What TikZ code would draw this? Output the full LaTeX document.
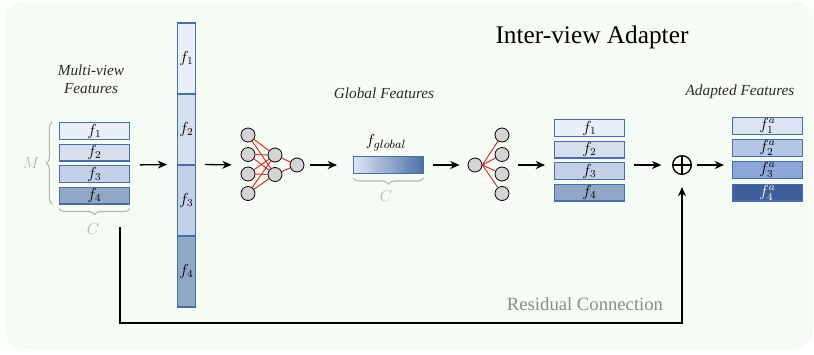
\documentclass[tikz,border=0pt]{standalone}
\usepackage{fontspec}
\setmainfont{Liberation Serif}
\usetikzlibrary{arrows.meta,decorations.pathreplacing}
\definecolor{bgmint}{HTML}{F5FCF3}
\definecolor{featline}{HTML}{4A6DA8}
\definecolor{fa}{HTML}{E9EFF6}
\definecolor{fb}{HTML}{D5DFEE}
\definecolor{fc}{HTML}{C2D1E8}
\definecolor{fd}{HTML}{90A7C6}
\definecolor{aa}{HTML}{DCE4F4}
\definecolor{ab}{HTML}{B4C6E6}
\definecolor{ac}{HTML}{8CA6DA}
\definecolor{ad}{HTML}{3E5F9C}
\definecolor{glight}{HTML}{DDE5F4}
\definecolor{gmid}{HTML}{A9BCDC}
\definecolor{gdark}{HTML}{4F70A7}
\definecolor{neuron}{HTML}{D4D4D4}
\definecolor{synapse}{HTML}{D42A2A}
\definecolor{bracegray}{HTML}{B5B5B5}
\definecolor{notegray}{HTML}{8C8C8C}
\definecolor{inkgray}{HTML}{2B2B2B}
\begin{document}
\begin{tikzpicture}[
x=0.75pt, y=-0.75pt,
every edge/.style = {draw=black, line width=1pt},
 flow/.style = {-{Stealth[length=7pt,width=6pt]}},
 resid/.style = {draw=black, line width=0.8pt,
      -{Stealth[length=7pt,width=6pt]}, shorten >=9pt},
 feat/.style args = {#1/#2}{%
      rectangle, draw=featline, line width=0.9pt, fill=#1, text=#2,
      minimum width=52.3pt, minimum height=12.6pt, inner sep=0pt,
      font=\fontsize{11.5}{13}\selectfont},
 seg/.style = {rectangle, draw=featline, line width=0.9pt, fill=#1,
      minimum width=13.3pt, minimum height=53.25pt, inner sep=0pt,
      font=\fontsize{11.5}{13}\selectfont},
 nrn/.style = {circle, draw=black, line width=0.6pt, fill=neuron,
      minimum size=10.5pt, inner sep=0pt},
 syn/.style = {draw=synapse, line width=0.7pt},
 brc/.style = {draw=bracegray, line width=0.8pt, decorate,
      decoration={brace, amplitude=4.5pt}},
 dimlbl/.style = {text=bracegray, font=\fontsize{13}{15}\selectfont},
 sublbl/.style = {text=inkgray, align=center,
      font=\fontsize{11.5}{13.5}\selectfont\itshape},
 heading/.style = {font=\fontsize{19}{22}\selectfont},
 note/.style = {text=notegray, font=\fontsize{14}{16}\selectfont}
                    ]
\useasboundingbox (0,0) rectangle (814,354);
\fill[bgmint, rounded corners=14pt] (5,1) rectangle (813,349);
%
\node(title) [heading] at (592,37) {Inter-view Adapter};
\node(mvlbl) [sublbl] at (91,79) {Multi-view\\Features};
\node(gflbl) [sublbl] at (384,93) {Global Features};
\node(aflbl) [sublbl] at (740,92) {Adapted Features};
%
\node(l1) [feat=fa/black] at (94.5,131) {$f_1$};
\node(l2) [feat=fb/black] at (94.5,152.5) {$f_2$};
\node(l3) [feat=fc/black] at (94.5,174) {$f_3$};
\node(l4) [feat=fd/black] at (94.5,195.5) {$f_4$};
\draw[brc] ([xshift=-5pt]l4.south west) -- ([xshift=-5pt]l1.north west);
\draw[brc] ([yshift=-3pt]l4.south east) -- ([yshift=-3pt]l4.south west);
\node(dimM) [dimlbl] at (31,163) {$M$};
\node(dimC) [dimlbl] at (93,229) {$C$};
%
\node(col1) [seg=fa] at (186.5,58.5) {$f_1$};
\node(col2) [seg=fb] at (186.5,129.5) {$f_2$};
\node(col3) [seg=fc] at (186.5,200.5) {$f_3$};
\node(col4) [seg=fd] at (186.5,271.5) {$f_4$};
%
\node(i1) [nrn] at (248,135) {};
\node(i2) [nrn] at (248,154.5) {};
\node(i3) [nrn] at (248,174) {};
\node(i4) [nrn] at (248,193.5) {};
\node(h1) [nrn] at (275,155) {};
\node(h2) [nrn] at (275,174.5) {};
\node(o1) [nrn] at (297,165) {};
\path   (i1)  edge[syn] (h1);
\path   (i1)  edge[syn] (h2);
\path   (i2)  edge[syn] (h1);
\path   (i2)  edge[syn] (h2);
\path   (i3)  edge[syn] (h1);
\path   (i3)  edge[syn] (h2);
\path   (i4)  edge[syn] (h1);
\path   (i4)  edge[syn] (h2);
\path   (h1)  edge[syn] (o1);
\path   (h2)  edge[syn] (o1);
%
\node(gbar) [rectangle, draw=featline, line width=0.9pt,
      left color=glight, middle color=gmid, right color=gdark,
      minimum width=52.3pt, minimum height=12.6pt] at (388.5,165) {};
\node(fglb) [font=\fontsize{12.5}{14}\selectfont] at (386,143) {$f_{global}$};
\draw[brc] ([yshift=-3pt]gbar.south east) -- ([yshift=-3pt]gbar.south west);
\node(dimC2) [dimlbl] at (386,196) {$C$};
%
\node(p0) [nrn] at (475,165) {};
\node(q1) [nrn] at (502,135) {};
\node(q2) [nrn] at (502,154.5) {};
\node(q3) [nrn] at (502,174) {};
\node(q4) [nrn] at (502,193.5) {};
\path   (p0.east)  edge[syn] (q1);
\path   (p0.east)  edge[syn] (q2);
\path   (p0.east)  edge[syn] (q3);
\path   (p0.east)  edge[syn] (q4);
%
\node(m1) [feat=fa/black] at (589.5,128) {$f_1$};
\node(m2) [feat=fb/black] at (589.5,149.5) {$f_2$};
\node(m3) [feat=fc/black] at (589.5,171) {$f_3$};
\node(m4) [feat=fd/black] at (589.5,192.5) {$f_4$};
%
\node(plus) [circle, draw=black, line width=1pt, minimum size=14pt,
      inner sep=0pt, path picture={
      \draw[line width=1pt] (path picture bounding box.north)
            -- (path picture bounding box.south)
            (path picture bounding box.west)
            -- (path picture bounding box.east);}] at (682,165) {};
%
\node(r1) [feat=aa/black] at (767.5,126) {$f_1^a$};
\node(r2) [feat=ab/black] at (767.5,148) {$f_2^a$};
\node(r3) [feat=ac/black] at (767.5,170) {$f_3^a$};
\node(r4) [feat=ad/white] at (767.5,192.5) {$f_4^a$};
%
\path   (l1.east |- plus)  edge[flow, shorten <=7.5pt, shorten >=7.5pt] (col3.north west);
\path   (col3.north east)  edge[flow, shorten <=6.75pt, shorten >=6.75pt] (i1.west |- plus);
\path   (o1.east)  edge[flow, shorten <=4.5pt, shorten >=12pt] (gbar.west);
\path   (gbar.east)  edge[flow, shorten <=6.75pt, shorten >=6pt] (p0.west);
\path   (q1.east |- plus)  edge[flow, shorten <=6.75pt, shorten >=6.75pt] (m1.west |- plus);
\path   (m1.east |- plus)  edge[flow, shorten <=6.75pt, shorten >=8pt] (plus.west);
\path   (plus.east)  edge[flow, shorten <=3.75pt, shorten >=6pt] (r1.west |- plus);
%
\coordinate (resstart) at (120,227);
\draw[resid] (resstart) -- ++(0,96) -| (plus);
\node(reslbl) [note] at (585,304) {Residual Connection};
\end{tikzpicture}
\end{document}
